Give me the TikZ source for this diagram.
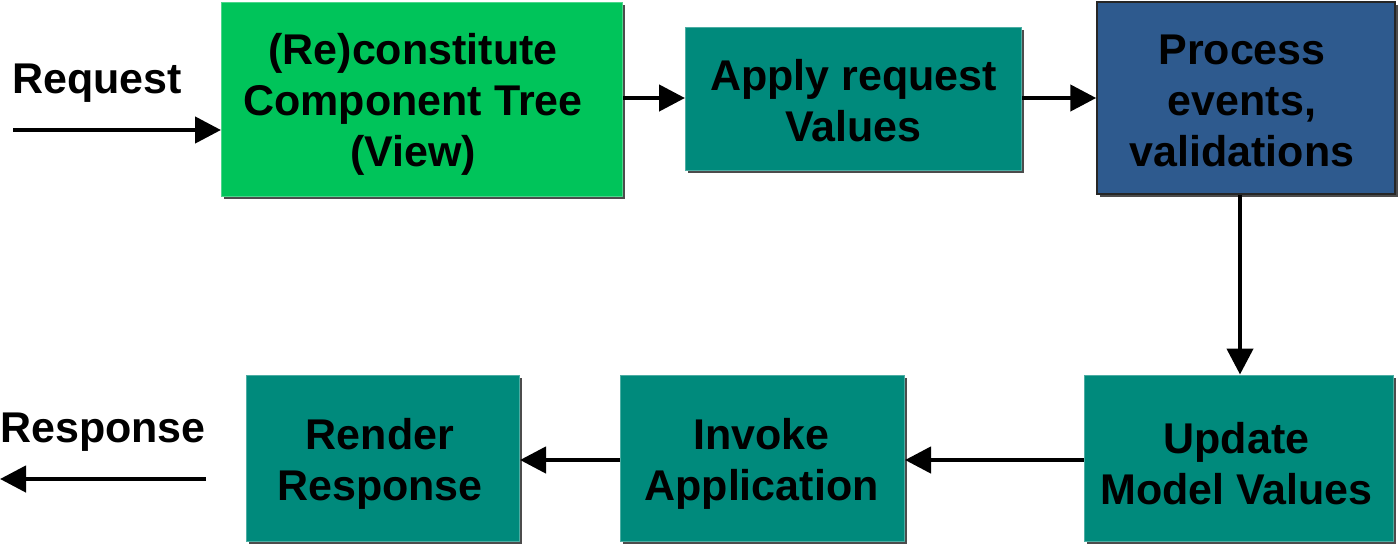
\documentclass[tikz,border=0pt]{standalone}
\usepackage{fontspec}
\setmainfont{Liberation Sans}
\usetikzlibrary{arrows.meta,shadows}
\definecolor{bgreen}{RGB}{0,196,90}
\definecolor{bteal}{RGB}{0,138,124}
\definecolor{bblue}{RGB}{46,90,142}
\tikzset{
  phase/.style={rectangle, inner sep=0pt,
    drop shadow={shadow xshift=2.5pt, shadow yshift=-2.5pt, fill=black!70, opacity=1}},
  ptext/.style={inner sep=0pt, align=center, text=black,
    font=\fontsize{43}{51}\selectfont\bfseries},
  flow/.style={line width=4.5pt, -{Triangle[length=26pt,width=26pt]}},
  lbl/.style={font=\fontsize{43}{51}\selectfont\bfseries, inner sep=0pt}
}
\begin{document}
\begin{tikzpicture}[x=1pt,y=-1pt]
\useasboundingbox (0,0) rectangle (1398,547);
\node[phase, fill=bgreen, draw=bgreen!70!white, line width=1pt, minimum width=401pt, minimum height=194pt] (recon) at (422,99) {};
\node[phase, fill=bteal, draw=bteal!70!white, line width=1pt, minimum width=336pt, minimum height=143pt] (apply) at (853.5,98.5) {};
\node[phase, fill=bblue, draw=black!85, line width=1.5pt, minimum width=298pt, minimum height=192pt] (process) at (1246,98) {};
\node[phase, fill=bteal, draw=bteal!70!white, line width=1pt, minimum width=309pt, minimum height=166pt] (update) at (1238.5,458) {};
\node[phase, fill=bteal, draw=bteal!70!white, line width=1pt, minimum width=284pt, minimum height=166pt] (invoke) at (762.5,458) {};
\node[phase, fill=bteal, draw=bteal!70!white, line width=1pt, minimum width=273pt, minimum height=166pt] (render) at (383,458) {};

\node[ptext] (recon-t) at ([xshift=-9pt,yshift=-5pt]recon.center) {(Re)constitute\\Component Tree\\(View)};
\node[ptext] (apply-t) at ([yshift=-2pt]apply.center) {Apply request\\Values};
\node[ptext] (process-t) at ([xshift=-4pt,yshift=-3pt]process.center) {Process\\events,\\validations};
\node[ptext] (update-t) at ([xshift=-2pt,yshift=-6pt]update.center) {Update\\Model Values};
\node[ptext] (invoke-t) at ([xshift=-1pt,yshift=-6pt]invoke.center) {Invoke\\Application};
\node[ptext] (render-t) at ([xshift=-3pt,yshift=-6pt]render.center) {Render\\Response};

\node[lbl] (reqlbl) at (97,83) {Request};
\node[lbl] (reslbl) at (103,432) {Response};
\coordinate (reqstart) at (13,130);
\coordinate (resend) at (0,479);
\coordinate (resstart) at (206,479);

\draw[flow] (reqstart) -- (recon.west |- reqstart);
\draw[flow] (recon.east |- 0,98) -- (apply.west |- 0,98);
\draw[flow] (apply.east |- 0,98) -- (process.west |- 0,98);
\draw[flow] (process.south -| 1240,0) -- (update.north -| 1240,0);
\draw[flow] (update.west |- 0,460) -- (invoke.east |- 0,460);
\draw[flow] (invoke.west |- 0,460) -- (render.east |- 0,460);
\draw[flow] (resstart) -- (resend);
\end{tikzpicture}
\end{document}
